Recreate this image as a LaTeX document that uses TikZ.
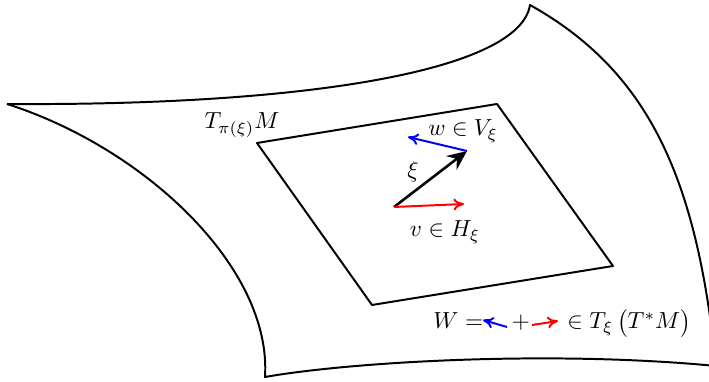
\documentclass[tikz,border=0pt]{standalone}
\usetikzlibrary{arrows.meta}
\begin{document}
\begin{tikzpicture}[x=0.43pt,y=-0.43pt,
  edge/.style={line width=0.85pt, line join=round},
  vec/.style={line width=0.85pt,-{To[length=4.5pt,width=5pt]}},
  bigvec/.style={line width=1.1pt,-{Stealth[length=8.5pt,width=7.5pt,inset=3pt]}},
  lbl/.style={inner sep=0pt}]
\useasboundingbox (0,0) rectangle (709,382);
\begin{scope}
\clip (0,0) rectangle (709,382);
% outer surface
\coordinate (A) at (7,104);
\coordinate (B) at (530,5);
\coordinate (C) at (716,366);
\coordinate (D) at (265,377);
\draw[edge] (A) .. controls (310,106) and (520,70) .. (B)
  .. controls (650,72) and (697,180) .. (C);
\draw[edge] (A) .. controls (145,148) and (272,268) .. (D)
  .. controls (350,362) and (550,350) .. (C);
\end{scope}
% tangent plane
\coordinate (P1) at (257,143);
\coordinate (P2) at (497,104);
\coordinate (P3) at (613,266);
\coordinate (P4) at (372,305);
\draw[edge] (P1) -- (P2) -- (P3) -- (P4) -- cycle;
% vectors
\coordinate (O) at (394,207);
\coordinate (X) at (467,151);
\coordinate (Wt) at (408,137);
\coordinate (Vt) at (464,204);
\draw[bigvec] (O) -- (X);
\draw[vec,blue] (X) -- (Wt);
\draw[vec,red] (O) -- (Vt);
% labels
\node[lbl] (tm) at (242,125) {$T_{\pi(\xi)}M$};
\node[lbl] (wv) at (463,131) {$w\in V_\xi$};
\node[lbl] (xi) at (413,172) {$\xi$};
\node[lbl] (vh) at (445,232) {$v\in H_\xi$};
% formula
\node[lbl,anchor=base west] (Weq) at (433,329) {$W=$};
\node[lbl,anchor=base] (plus) at (521,329) {$+$};
\node[lbl,anchor=base west] (rest) at (567,329) {$\in T_\xi\,\bigl(T^*M\bigr)$};
\coordinate (b1) at (507,327);
\coordinate (b2) at (483,320);
\coordinate (r1) at (532,325);
\coordinate (r2) at (558,321);
\draw[vec,blue] (b1) -- (b2);
\draw[vec,red] (r1) -- (r2);
\end{tikzpicture}
\end{document}
